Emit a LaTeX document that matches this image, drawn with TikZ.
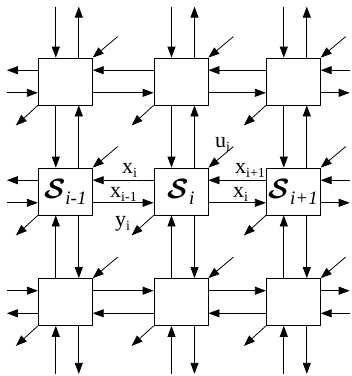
\documentclass[tikz,border=0pt]{standalone}
\usepackage{fontspec}
\setmainfont{Liberation Serif}
\usepackage{bm}
\usetikzlibrary{arrows.meta,calc}
\newcommand{\lsub}[1]{\raisebox{-4pt}{\fontsize{14}{14}\selectfont #1}}
\newcommand{\cellname}[1]{\scalebox{1.12}{\fontsize{24.88}{25}\selectfont$\bm{\mathcal{S}}$}\raisebox{-6pt}{\fontsize{19}{19}\selectfont\textit{#1}}}

\begin{document}
\begin{tikzpicture}[x=1pt,y=-1pt,
  cell/.style={draw,line width=0.8pt,fill=white,minimum width=54pt,
               minimum height=47pt,inner sep=0pt},
  sig/.style={line width=0.8pt,-{Triangle[length=11pt,width=8pt]}},
  lbl/.style={font=\fontsize{22}{22}\selectfont,inner sep=0pt,anchor=base west}]
  \useasboundingbox (0,0) rectangle (352,376);
  % cells
  \foreach \c/\x in {1/65.3,2/181,3/293.3}{
    \node[cell] (c1\c) at (\x,81.5) {};
    \node[cell] (c3\c) at (\x,302) {};
  }
  \node[cell] (c21) at (65.3,191.5) {\cellname{i-1}};
  \node[cell] (c22) at (181,191.5) {\cellname{i}};
  \node[cell] (c23) at (293.3,191.5) {\cellname{i+1}};
  % horizontal links (row 3 flipped)
  \foreach \r/\s in {1/1,2/1,3/-1}{
    \draw[sig] ([yshift=\s*11.3pt]c\r1.west) -- ++(-31,0);
    \draw[sig] ([yshift=\s*11.3pt]c\r2.west) -- ([yshift=\s*11.3pt]c\r1.east);
    \draw[sig] ([yshift=\s*11.3pt]c\r3.west) -- ([yshift=\s*11.3pt]c\r2.east);
    \draw[sig] ([yshift=\s*11.3pt]c\r3.east) ++(29,0) -- ([yshift=\s*11.3pt]c\r3.east);
    \draw[sig] ([yshift=-\s*11.3pt]c\r1.west) ++(-31,0) -- ([yshift=-\s*11.3pt]c\r1.west);
    \draw[sig] ([yshift=-\s*11.3pt]c\r1.east) -- ([yshift=-\s*11.3pt]c\r2.west);
    \draw[sig] ([yshift=-\s*11.3pt]c\r2.east) -- ([yshift=-\s*11.3pt]c\r3.west);
    \draw[sig] ([yshift=-\s*11.3pt]c\r3.east) -- ++(29,0);
  }
  % vertical links
  \foreach \c in {1,2,3}{
    \draw[sig] ([xshift=-9.5pt]c1\c.north) ++(0,-51) -- ([xshift=-9.5pt]c1\c.north);
    \draw[sig] ([xshift=13.5pt]c1\c.north) -- ++(0,-51);
    \draw[sig] ([xshift=-9.5pt]c1\c.south) -- ([xshift=-9.5pt]c2\c.north);
    \draw[sig] ([xshift=13.5pt]c2\c.north) -- ([xshift=13.5pt]c1\c.south);
    \draw[sig] ([xshift=-9.5pt]c3\c.north) -- ([xshift=-9.5pt]c2\c.south);
    \draw[sig] ([xshift=13.5pt]c2\c.south) -- ([xshift=13.5pt]c3\c.north);
    \draw[sig] ([xshift=-9.5pt]c3\c.south) ++(0,48) -- ([xshift=-9.5pt]c3\c.south);
    \draw[sig] ([xshift=13.5pt]c3\c.south) -- ++(0,48);
  }
  % diagonal inputs and outputs
  \foreach \r in {1,2,3}
    \foreach \c in {1,2,3}{
      \draw[sig] (c\r\c.north east) ++(25,-21) -- (c\r\c.north east);
      \draw[sig] (c\r\c.south west) -- ++(-22,20);
    }
  % labels
  \node[lbl] (ui) at (215,147) {u\lsub{i}};
  \node[lbl] (xa) at (122,173) {x\lsub{i}};
  \node[lbl] (xb) at (110,197) {x\lsub{i-1}};
  \node[lbl] (yi) at (115,226) {y\lsub{i}};
  \node[lbl] (xc) at (235,173) {x\lsub{i+1}};
  \node[lbl] (xd) at (233,197) {x\lsub{i}};
\end{tikzpicture}
\end{document}
